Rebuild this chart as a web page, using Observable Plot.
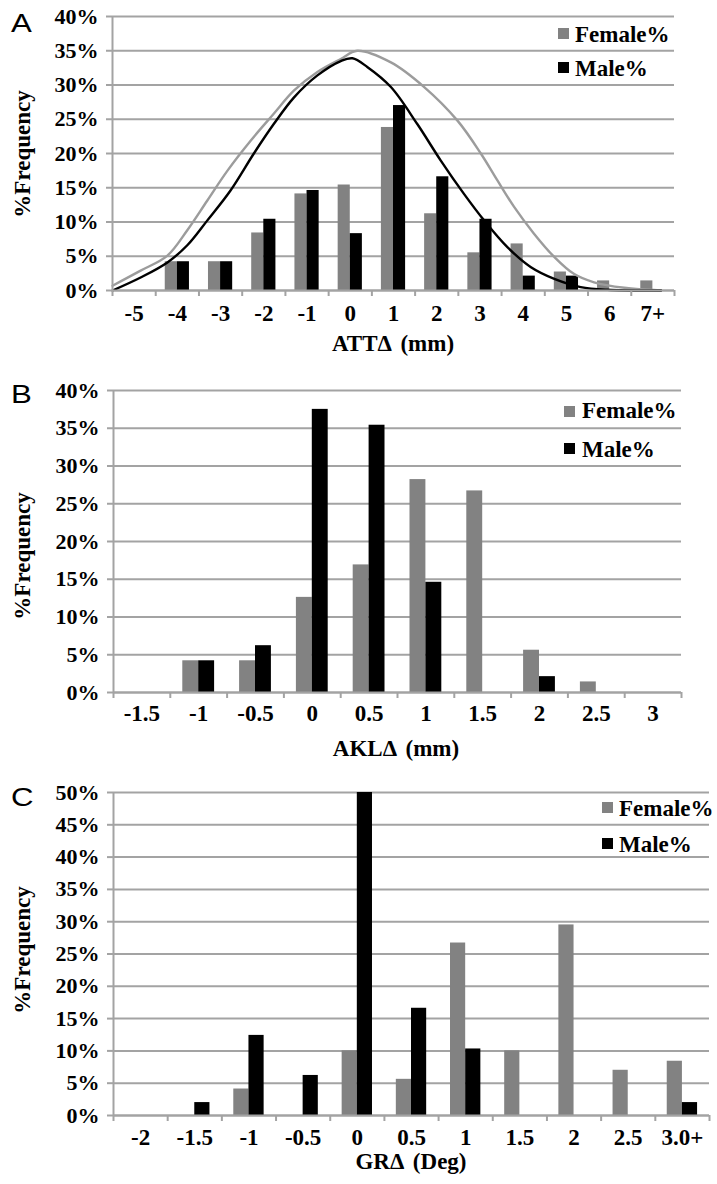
<!DOCTYPE html>
<html><head><meta charset="utf-8">
<script src="https://cdn.jsdelivr.net/npm/d3@7"></script>
<script src="https://cdn.jsdelivr.net/npm/@observablehq/plot@0.6"></script>
<style>
body{margin:0;background:#fff;}
#root{position:relative;width:717px;height:1184px;overflow:hidden;background:#fff;}
.panel{position:absolute;left:0;}
#overlay{position:absolute;left:0;top:0;}
</style></head><body><div id="root"></div>
<script>
// ---------- data ----------
const catsA = ["-5","-4","-3","-2","-1","0","1","2","3","4","5","6","7+"];
const femaleA = [0, 4.2, 4.2, 8.4, 14.1, 15.4, 23.8, 11.2, 5.5, 6.8, 2.7, 1.4, 1.4];
const maleA   = [0, 4.2, 4.2, 10.4, 14.6, 8.3, 27.0, 16.6, 10.4, 2.1, 2.1, 0, 0];

const curveFemaleX = [-5.5,-4.85,-4.23,-3.77,-3.31,-2.84,-2.30,-1.77,-1.30,-0.76,-0.22,0.16,0.94,1.71,2.48,3.02,3.40,3.79,4.25,4.72,5.18,5.64,6.34,7.19];
const curveFemaleY = [0.7,2.9,5.1,8.8,13.1,17.5,21.9,25.8,29.2,31.9,33.8,35.0,33.3,29.7,24.8,20.0,16.1,12.2,8.3,4.9,2.4,1.2,0.4,0.0];
const curveMaleX = [-5.5,-4.85,-4.23,-3.77,-3.31,-2.77,-2.23,-1.77,-1.30,-0.76,-0.22,0.05,0.40,0.94,1.55,2.09,2.63,3.10,3.64,4.18,4.72,5.33,5.95,7.19];
const curveMaleY = [0,1.9,4.1,6.6,10.2,14.6,20.0,24.3,28.2,31.4,33.5,33.9,32.6,29.7,24.3,19.0,14.1,10.2,6.3,3.4,1.7,0.5,0.1,0];

const catsB = ["-1.5","-1","-0.5","0","0.5","1","1.5","2","2.5","3"];
const femaleB = [0, 4.2, 4.2, 12.6, 16.9, 28.2, 26.7, 5.6, 1.4, 0];
const maleB   = [0, 4.2, 6.2, 37.5, 35.4, 14.6, 0, 2.1, 0, 0];

const catsC = ["-2","-1.5","-1","-0.5","0","0.5","1","1.5","2","2.5","3.0+"];
const femaleC = [0, 0, 4.1, 0, 10.0, 5.6, 26.7, 10.0, 29.5, 7.0, 8.4];
const maleC   = [0, 2.0, 12.4, 6.2, 50.0, 16.6, 10.3, 0, 0, 0, 2.0];

const yTicks40 = [0,5,10,15,20,25,30,35,40];
const yTicks50 = [0,5,10,15,20,25,30,35,40,45,50];
const seriesNames = ["Female%","Male%"];
const yTitle = "%Frequency";
const xTitles = ["ATTΔ (mm)","AKLΔ (mm)","GRΔ (Deg)"];
const panelLetters = ["A","B","C"];

// ---------- styles ----------
const GRID = "#a3a3a3";
const FEM = "#828282";
const FEM_LINE = "#9c9c9c";
const FONT = "Liberation Serif";

function makePanel(p) {
  const pos = p.cats.map(c => parseFloat(c));
  const step = pos[1] - pos[0];
  const lo = pos[0] - step / 2, hi = pos[pos.length - 1] + step / 2;
  const bounds = d3.range(pos.length + 1).map(i => lo + i * step);
  const labelOf = new Map(pos.map((v, i) => [v, p.cats[i]]));
  const w = 0.28 * step;
  const fBars = pos.map((v, i) => ({x1: v - w, x2: v, y: p.female[i]})).filter(d => d.y > 0);
  const mBars = pos.map((v, i) => ({x1: v, x2: v + w, y: p.male[i]})).filter(d => d.y > 0);
  const marks = [
    Plot.gridY(p.yTicks, {stroke: GRID, strokeOpacity: 1, strokeWidth: 2}),
    Plot.rectY(fBars, {x1: "x1", x2: "x2", y: "y", fill: FEM}),
    Plot.rectY(mBars, {x1: "x1", x2: "x2", y: "y", fill: "#000"})
  ];
  if (p.curves) {
    for (const c of p.curves) {
      const pts = c.x.map((x, i) => ({x, y: c.y[i]}));
      marks.push(Plot.line(pts, {x: "x", y: "y", stroke: c.stroke, strokeWidth: 2.4, curve: "catmull-rom"}));
    }
  }
  marks.push(
    Plot.ruleX([lo], {stroke: GRID, strokeWidth: 2}),
    Plot.ruleY([0], {stroke: GRID, strokeWidth: 2}),
    Plot.axisY(p.yTicks, {tickSize: 6, tickPadding: 8, tickFormat: d => d + "%", stroke: GRID, strokeWidth: 2, fill: "#000", fontSize: 22, label: null}),
    Plot.axisX(bounds, {tickSize: 6, tickFormat: () => "", stroke: GRID, strokeWidth: 2, label: null}),
    Plot.axisX(pos, {tickSize: 0, tickPadding: p.pad, tickFormat: d => labelOf.get(d), fill: "#000", fontSize: 23, label: null})
  );
  return Plot.plot({
    width: 717, height: p.height,
    marginTop: p.mt, marginBottom: p.mb, marginLeft: p.ml, marginRight: p.mr,
    x: {domain: [lo, hi]},
    y: {domain: [0, p.yMax]},
    style: {fontFamily: FONT, fontWeight: "bold", fontSize: "22px", background: "transparent", color: "#000", overflow: "visible"},
    marks
  });
}

const root = document.getElementById("root");
const panels = [
  {top: 0, height: 360, mt: 16, mb: 70, ml: 112, mr: 43, pad: 14, cats: catsA, female: femaleA, male: maleA, yMax: 40, yTicks: yTicks40,
   curves: [{x: curveFemaleX, y: curveFemaleY, stroke: FEM_LINE}, {x: curveMaleX, y: curveMaleY, stroke: "#000"}]},
  {top: 370, height: 390, mt: 20, mb: 68, ml: 113, mr: 36, pad: 12, cats: catsB, female: femaleB, male: maleB, yMax: 40, yTicks: yTicks40},
  {top: 770, height: 414, mt: 22, mb: 69, ml: 113, mr: 8, pad: 13, cats: catsC, female: femaleC, male: maleC, yMax: 50, yTicks: yTicks50}
];
for (const p of panels) {
  const div = document.createElement("div");
  div.className = "panel";
  div.style.top = p.top + "px";
  div.appendChild(makePanel(p));
  root.appendChild(div);
}

// ---------- overlay: titles, legends, panel letters ----------
const ov = d3.select(root).append("svg").attr("id", "overlay")
  .attr("width", 717).attr("height", 1184)
  .style("font-family", FONT).style("font-weight", "bold");

const yTitlePos = [[30, 154], [30, 556], [30, 950]];
const xTitlePos = [[393, 351], [396, 756], [411, 1169]];
const letterPos = [[11, 32], [11, 403], [11, 806]];
const legendPos = [
  {sx: 558, tx: 575, rows: [[28, 42], [62, 76]]},
  {sx: 564, tx: 582, rows: [[406, 418], [443, 457]]},
  {sx: 602, tx: 619, rows: [[802, 816], [838, 852]]}
];
const legendColors = [FEM, "#000"];

for (let k = 0; k < 3; k++) {
  ov.append("text").attr("transform", `translate(${yTitlePos[k][0]},${yTitlePos[k][1]}) rotate(-90)`)
    .attr("text-anchor", "middle").attr("font-size", 23).text(yTitle);
  ov.append("text").attr("x", xTitlePos[k][0]).attr("y", xTitlePos[k][1])
    .attr("text-anchor", "middle").attr("font-size", 23).attr("word-spacing", 4).text(xTitles[k]);
  ov.append("text").attr("transform", `translate(${letterPos[k][0]},${letterPos[k][1]}) scale(1.2,1)`)
    .attr("font-family", "Liberation Sans").attr("font-weight", "normal").attr("font-size", 26).text(panelLetters[k]);
  const L = legendPos[k];
  seriesNames.forEach((s, i) => {
    ov.append("rect").attr("x", L.sx).attr("y", L.rows[i][0]).attr("width", 11).attr("height", 11).attr("fill", legendColors[i]);
    ov.append("text").attr("x", L.tx).attr("y", L.rows[i][1]).attr("font-size", 23).text(s);
  });
}
</script></body></html>
